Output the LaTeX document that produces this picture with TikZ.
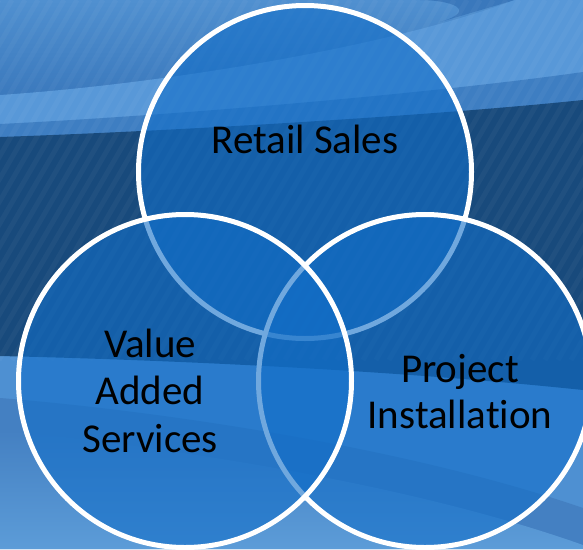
\documentclass[tikz,border=0pt]{standalone}
\usepackage{fontspec}
\setmainfont{Carlito}[Ligatures={CommonOff,ContextualOff}]
\definecolor{bgtoplight}{RGB}{80,144,208}
\definecolor{bgtopdark}{RGB}{58,120,188}
\definecolor{swoosh}{RGB}{88,152,216}
\definecolor{midband}{RGB}{62,126,194}
\definecolor{darkband}{RGB}{24,74,124}
\definecolor{lowlight}{RGB}{78,144,210}
\definecolor{lowmid}{RGB}{68,128,194}
\definecolor{lowlighter}{RGB}{92,156,216}
\definecolor{circfill}{RGB}{18,110,200}
\begin{document}
\begin{tikzpicture}[x=1pt,y=-1pt,
  venn/.style={circle, minimum size=333pt, inner sep=0pt, draw=white, line width=5pt,
    fill=circfill, fill opacity=0.6},
  lbl/.style={font=\fontsize{41}{46}\selectfont, text=black, inner sep=0pt, anchor=base}]
\useasboundingbox (0,0) rectangle (583,549);
\clip (0,0) rectangle (583,549);
% background
\fill[bgtoplight] (0,0) rectangle (583,549);
\shade[top color=bgtoplight, bottom color=bgtopdark] (0,0) rectangle (583,100);
\fill[bgtopdark] (420,0) .. controls (450,0) and (480,10) .. (440,22) -- (515,0) -- cycle;
\fill[swoosh] (0,95) .. controls (150,85) and (380,50) .. (515,0) -- (583,0) -- (583,73)
  .. controls (450,92) and (200,115) .. (0,125) -- cycle;
\fill[midband] (0,124) .. controls (200,114) and (450,91) .. (583,72) -- (583,400) -- (0,400) -- cycle;
\fill[lowlight] (0,340) rectangle (583,549);
\fill[lowmid] (0,398) .. controls (150,410) and (400,445) .. (583,508) -- (583,549) -- (0,549) -- cycle;
\shade[top color=lowmid, bottom color=lowlighter] (0,430) .. controls (150,445) and (400,480) .. (583,545)
  -- (583,549) -- (0,549) -- cycle;
\fill[darkband] (0,137) .. controls (200,130) and (450,114) .. (583,100) -- (583,390)
  .. controls (450,376) and (250,362) .. (0,356) -- cycle;
\begin{scope}
  \clip (0,0) rectangle (583,360);
  \foreach \s in {-300,-287,...,600}
    \draw[white, opacity=0.035, line width=5pt] (\s,360) -- ++(208,-360);
\end{scope}
% circles
\node[venn] (top) at (305,172) {};
\node[venn] (right) at (425,381) {};
\node[venn] (left) at (185,381) {};
% labels
\node[lbl] (rs) at (305,153) {Retail Sales};
\node[lbl] (va1) at (150,357) {Value};
\node[lbl] (va2) at (150,404.5) {Added};
\node[lbl] (va3) at (150,452) {Services};
\node[lbl] (pi1) at (460,382) {Project};
\node[lbl] (pi2) at (460,428) {Installation};
\end{tikzpicture}
\end{document}
